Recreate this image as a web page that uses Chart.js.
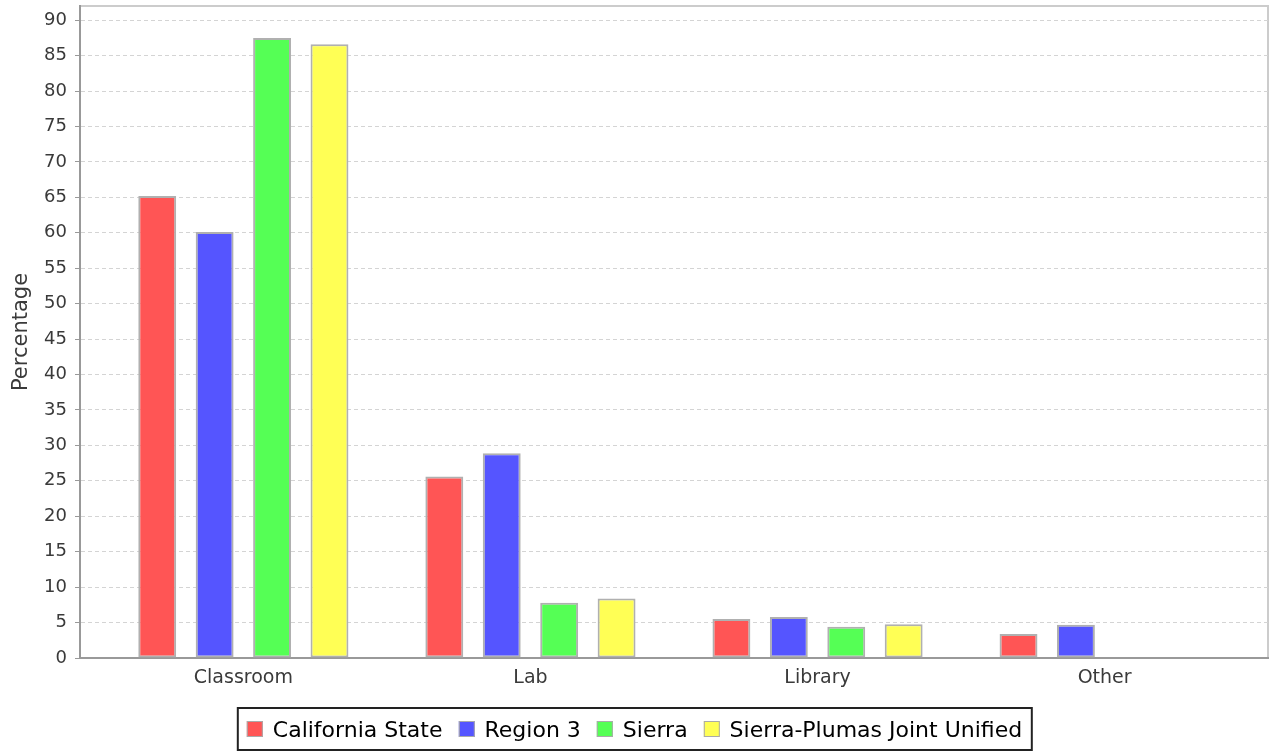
<!DOCTYPE html>
<html>
<head>
<meta charset="utf-8">
<title>Percentage by location</title>
<script src="https://cdn.jsdelivr.net/npm/chart.js@4.4.1/dist/chart.umd.min.js"></script>
<style>
    body { margin: 0; background: #fff; }
    #wrap { position: relative; width: 1270px; height: 752px; }
    #legend {
        position: absolute; top: 707px; left: 50%; transform: translateX(-50%);
        height: 44px; box-sizing: border-box; border: 2px solid #222;
        display: flex; align-items: center; padding: 0 9px 0 8px;
        font: 22px 'DejaVu Sans', sans-serif; color: #000; white-space: nowrap;
    }
    .item { display: flex; align-items: center; margin-right: 16px; }
    .item:last-child { margin-right: 0; }
    .swatch { width: 14px; height: 14px; border: 1px solid #aaa; margin-right: 10px; }
</style>
</head>
<body>
<div id="wrap">
    <canvas id="barChart"></canvas>
    <div id="legend"></div>
</div>
<script>
const categories = ['Classroom', 'Lab', 'Library', 'Other'];
const seriesNames = ['California State', 'Region 3', 'Sierra', 'Sierra-Plumas Joint Unified'];
const seriesColors = ['#ff5555', '#5555ff', '#55ff55', '#ffff55'];

const californiaState = [65.2, 25.6, 5.5, 3.4];
const region3 = [60.1, 28.9, 5.8, 4.7];
const sierra = [87.5, 7.8, 4.4, null];
const sierraPlumas = [86.6, 8.4, 4.75, null];

const yTicks = [0, 5, 10, 15, 20, 25, 30, 35, 40, 45, 50, 55, 60, 65, 70, 75, 80, 85, 90];

const textColor = '#3a3a3a';

// light grey outline round the plot, like the original
const plotOutline = {
    id: 'plotOutline',
    beforeDraw(chart) {
        const { ctx, chartArea: a } = chart;
        ctx.save();
        ctx.fillStyle = '#fff';
        ctx.fillRect(0, 0, chart.width, chart.height);
        ctx.strokeStyle = '#cccccc';
        ctx.lineWidth = 2;
        ctx.strokeRect(a.left, a.top, a.right - a.left, a.bottom - a.top);
        ctx.restore();
    }
};

function makeDataset(i, values) {
    return {
        label: seriesNames[i],
        data: values,
        backgroundColor: seriesColors[i],
        borderColor: '#b0b0b0',
        borderWidth: 2,
        borderSkipped: false,
        categoryPercentage: 0.8,
        barPercentage: 0.66
    };
}

function initChart() {
    const ctx = document.getElementById('barChart').getContext('2d');
    return new Chart(ctx, {
        type: 'bar',
        data: {
            labels: categories.map((c, i) => i),
            datasets: [
                makeDataset(0, californiaState),
                makeDataset(1, region3),
                makeDataset(2, sierra),
                makeDataset(3, sierraPlumas)
            ]
        },
        options: {
            responsive: true,
            maintainAspectRatio: false,
            animation: false,
            layout: { padding: { top: 6, right: 2, left: 0, bottom: 0 } },
            plugins: {
                legend: { display: false },
                tooltip: { enabled: false }
            },
            scales: {
                x: {
                    type: 'linear',
                    offset: false,
                    min: -0.569,
                    max: 3.569,
                    afterBuildTicks: scale => {
                        scale.ticks = categories.map((c, i) => ({ value: i }));
                    },
                    afterFit: scale => {
                        scale.height = 94;
                        scale.paddingLeft = 0;
                        scale.paddingRight = 0;
                    },
                    ticks: {
                        font: { family: 'DejaVu Sans', size: 19 },
                        color: textColor,
                        padding: 9,
                        maxRotation: 0,
                        callback: v => categories[v]
                    },
                    grid: { display: false, drawTicks: false },
                    border: { display: true, color: '#999', width: 2 }
                },
                y: {
                    min: 0,
                    max: 92,
                    afterBuildTicks: scale => {
                        scale.ticks = yTicks.map(v => ({ value: v }));
                    },
                    afterFit: scale => {
                        scale.width = 80;
                        scale.paddingTop = 0;
                        scale.paddingBottom = 0;
                    },
                    ticks: {
                        font: { family: 'DejaVu Sans', size: 18 },
                        color: textColor,
                        padding: 8
                    },
                    grid: {
                        color: '#d4d4d4',
                        lineWidth: 1,
                        tickLength: 5,
                        tickColor: '#999',
                        tickWidth: 1,
                        tickBorderDash: []
                    },
                    border: { display: true, color: '#999', width: 2, dash: [4, 3] },
                    title: {
                        display: true,
                        text: 'Percentage',
                        color: textColor,
                        font: { family: 'DejaVu Sans', size: 21 },
                        padding: { top: 9, bottom: 0 }
                    }
                }
            }
        },
        plugins: [plotOutline]
    });
}

function buildLegend() {
    const legend = document.getElementById('legend');
    legend.innerHTML = seriesNames.map((name, i) => `
        <span class="item"><span class="swatch" style="background:${seriesColors[i]}"></span>${name}</span>
    `).join('');
}

buildLegend();
initChart();
</script>
</body>
</html>
